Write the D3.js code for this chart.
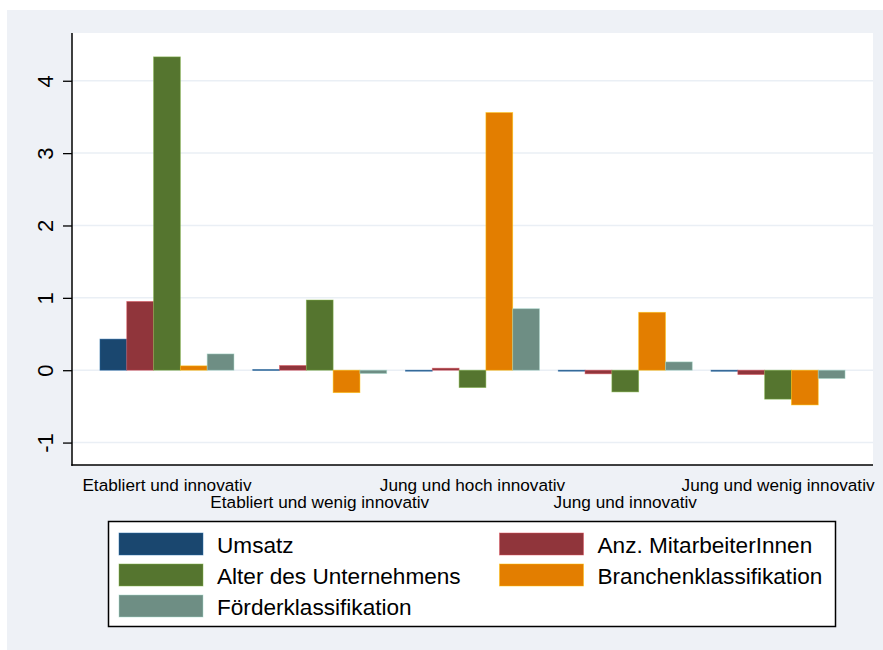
<!DOCTYPE html>
<html>
<head>
<meta charset="utf-8">
<script src="https://cdn.jsdelivr.net/npm/d3@7"></script>
<style>
  html, body { margin: 0; padding: 0; background: #ffffff; }
  svg { display: block; }
  text { font-family: "Liberation Sans", Arial, sans-serif; fill: #000; }
</style>
</head>
<body>
<svg id="chart" width="883" height="650"></svg>
<script>
// ---- data ----
const categories = [
  "Etabliert und innovativ",
  "Etabliert und wenig innovativ",
  "Jung und hoch innovativ",
  "Jung und innovativ",
  "Jung und wenig innovativ"
];
const seriesNames = [
  "Umsatz",
  "Anz. MitarbeiterInnen",
  "Alter des Unternehmens",
  "Branchenklassifikation",
  "Förderklassifikation"
];
const umsatz       = [0.43, 0.01, -0.01, -0.01, -0.015];
const mitarbeiter  = [0.95, 0.065, 0.028, -0.05, -0.06];
const alter        = [4.33, 0.97, -0.24, -0.30, -0.40];
const branche      = [0.06, -0.31, 3.56, 0.80, -0.48];
const foerder      = [0.225, -0.046, 0.85, 0.115, -0.115];
const yTicks       = [-1, 0, 1, 2, 3, 4];
const yTickLabels  = ["-1", "0", "1", "2", "3", "4"];
const colors       = ["#1a476f", "#90353b", "#55752f", "#e37e00", "#6e8e84"];

const seriesValues = [umsatz, mitarbeiter, alter, branche, foerder];

// ---- layout ----
const svg = d3.select("#chart");
const W = 883, H = 650;
const plot = { left: 72, right: 873, top: 33, bottom: 465 };

svg.append("rect").attr("x", 7).attr("y", 10).attr("width", W - 7).attr("height", H - 10)
  .attr("fill", "#eef1f6");
svg.append("rect").attr("x", plot.left).attr("y", plot.top)
  .attr("width", plot.right - plot.left).attr("height", plot.bottom - plot.top)
  .attr("fill", "#ffffff");

const y = d3.scaleLinear().domain([-1.31, 4.66]).range([plot.bottom, plot.top]);
const x0 = d3.scaleBand().domain(categories).range([plot.left, plot.right])
  .paddingInner(0.1228).paddingOuter(0.183);
const x1 = d3.scaleBand().domain(seriesNames).range([0, x0.bandwidth()]).padding(0);

// grid
svg.append("g").selectAll("line").data(yTicks).join("line")
  .attr("x1", plot.left).attr("x2", plot.right)
  .attr("y1", d => y(d)).attr("y2", d => y(d))
  .attr("stroke", "#eaeff5").attr("stroke-width", 1.5);

// bars
const groups = svg.append("g").selectAll("g").data(categories).join("g")
  .attr("transform", d => `translate(${x0(d)},0)`);
groups.selectAll("rect").data((c, ci) => seriesNames.map((s, si) => ({ s, si, v: seriesValues[si][ci] })))
  .join("rect")
  .attr("x", d => x1(d.s))
  .attr("width", x1.bandwidth())
  .attr("y", d => Math.min(y(d.v), y(0)))
  .attr("height", d => Math.max(1, Math.abs(y(d.v) - y(0))))
  .attr("fill", d => colors[d.si])
  .attr("stroke", d => d3.color(colors[d.si]).brighter(1.2))
  .attr("stroke-opacity", 0.6)
  .attr("stroke-width", 0.8);

// y axis
const yAxis = d3.axisLeft(y).tickValues(yTicks).tickSize(9).tickPadding(10)
  .tickFormat((d, i) => yTickLabels[i]);
const gy = svg.append("g").attr("transform", `translate(${plot.left},0)`).call(yAxis);
gy.select(".domain").remove();
gy.selectAll(".tick line").attr("stroke", "#000").attr("stroke-width", 1.3);
gy.selectAll(".tick text")
  .attr("font-size", 22)
  .attr("x", null).attr("dy", null).attr("y", 0)
  .attr("text-anchor", "middle")
  .attr("transform", `translate(-19,0) rotate(-90)`);
svg.append("line").attr("x1", plot.left).attr("x2", plot.left)
  .attr("y1", plot.top).attr("y2", plot.bottom + 0.75)
  .attr("stroke", "#000").attr("stroke-width", 1.5);

// x axis
const xAxis = d3.axisBottom(x0).tickSize(0).tickPadding(0);
const gx = svg.append("g").attr("transform", `translate(0,${plot.bottom})`).call(xAxis);
gx.select(".domain").remove();
gx.selectAll(".tick text")
  .attr("font-size", 17.2)
  .attr("dy", null)
  .attr("y", (d, i) => i % 2 === 0 ? 26 : 43);
svg.append("line").attr("x1", plot.left - 0.75).attr("x2", plot.right)
  .attr("y1", plot.bottom).attr("y2", plot.bottom)
  .attr("stroke", "#000").attr("stroke-width", 1.5);

// legend
const lg = svg.append("g");
lg.append("rect").attr("x", 108.5).attr("y", 521.5).attr("width", 727).attr("height", 105)
  .attr("fill", "#fff").attr("stroke", "#000").attr("stroke-width", 1.5);
const legCols = [119, 499.5];
const legTextX = [217, 597.5];
const legRowY = [533, 564, 595];
seriesNames.forEach((s, i) => {
  const col = i % 2, row = Math.floor(i / 2);
  lg.append("rect").attr("x", legCols[col]).attr("y", legRowY[row])
    .attr("width", 84).attr("height", 22).attr("fill", colors[i])
    .attr("stroke", d3.color(colors[i]).brighter(1.2)).attr("stroke-opacity", 0.6).attr("stroke-width", 0.8);
  lg.append("text").attr("x", legTextX[col]).attr("y", legRowY[row] + 19.5)
    .attr("font-size", 22.6).text(s);
});
</script>
</body>
</html>
